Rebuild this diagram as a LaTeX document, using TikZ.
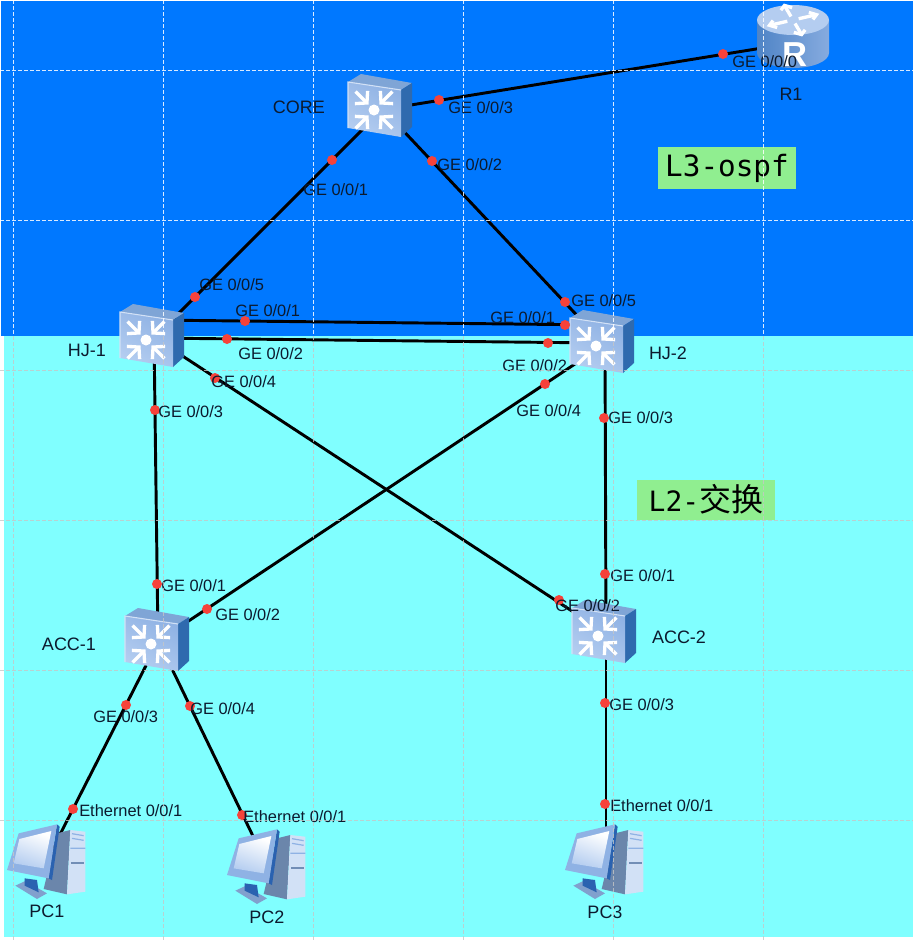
\documentclass[tikz,border=0pt]{standalone}
\usepackage{fontspec}
\setmainfont{Liberation Sans}
\newfontfamily\monof{DejaVu Sans Mono}
\newfontfamily\cjkf{Noto Sans CJK SC}
\definecolor{skyblue}{HTML}{0078FF}
\definecolor{cyanbg}{HTML}{80FFFF}
\definecolor{tagbg}{HTML}{90EE90}
\definecolor{dotred}{HTML}{F6423A}
\definecolor{inkc}{HTML}{0C1A2E}
\definecolor{faceA}{HTML}{B4CDF0}
\definecolor{faceB}{HTML}{8FB2E4}
\definecolor{sideC}{HTML}{2F6AAE}
\definecolor{topC}{HTML}{7FA5D6}
\definecolor{darkB}{HTML}{2A62B0}
\definecolor{bodyA}{HTML}{4F84C6}
\definecolor{bodyB}{HTML}{86ABDF}
\tikzset{
  x=0.75pt,y=-0.75pt,
  devnode/.style={inner sep=0pt,outer sep=0pt,minimum size=45pt},
  link/.style={line width=2.2pt,black},
  portdot/.style={circle,fill=dotred,inner sep=0pt,minimum size=7.5pt},
  lab/.style={font=\fontsize{12.3}{14}\selectfont,text=inkc,inner sep=0pt,anchor=west},
  devlabel/.style={font=\fontsize{13.5}{15}\selectfont,text=inkc,inner sep=0pt},
  tagtext/.style={inner sep=0pt,text=black},
  chev/.style={white,line width=2.5pt,line cap=butt,line join=miter},
  gridb/.style={white,line width=0.75pt,dash pattern=on 3pt off 1.5pt,opacity=.85},
  gridc/.style={gray!45,line width=0.75pt,dash pattern=on 3pt off 1.5pt,opacity=.8},
  switchicon/.pic={
    \fill[topC] (-32,-24) -- (-19,-32) -- (32,-23) -- (21,-16) -- cycle;
    \fill[sideC] (21,-16) -- (32,-23) -- (32,21) -- (21,31) -- cycle;
    \shade[top color=faceB,bottom color=faceA,shading angle=-30] (-32,-24) -- (21,-16) -- (21,31) -- (-32,22) -- cycle;
    \draw[faceA!60!white,line width=.8pt] (-32,22) -- (-32,-24) -- (21,-16);
    \begin{scope}[shift={(-6,4)}]
      \fill[white] (0,0) circle (5.5);
      \foreach \a in {45,135,225,315}{
        \begin{scope}[rotate=\a]
          \draw[chev] (26,0) -- (10,0);
          \draw[chev] (18,-9) -- (10,0) -- (18,9);
        \end{scope}}
    \end{scope}
  },
  routericon/.pic={
    \shade[left color=bodyA,right color=bodyB]
      (-36,-16) -- (-36,17) arc[start angle=180,end angle=0,x radius=36,y radius=15] -- (36,-16) -- cycle;
    \fill[faceA] (0,-16) ellipse[x radius=36,y radius=15];
    \begin{scope}[shift={(0,-16)},yscale=.62]
      \foreach \a in {20,110,200,290}{
        \begin{scope}[rotate=\a]
          \draw[chev] (6,0) -- (25,0);
          \draw[chev] (19,-6) -- (25,0) -- (19,6);
        \end{scope}}
    \end{scope}
    \node[inner sep=0pt,text=white,font=\bfseries\fontsize{26}{28}\selectfont] (rglyph) at (2,19) {R};
  },
  pcicon/.pic={
    \begin{scope}[shift={(-45,-45)},scale=1/3]
      \fill[faceB!90!black] (40,212) -- (70,198) -- (135,235) -- (105,252) -- cycle;
      \fill[darkB] (68,190) -- (105,195) -- (110,232) -- (68,212) -- cycle;
      \fill[faceB!75!black] (165,55) -- (205,45) -- (195,238) -- (125,222) -- cycle;
      \fill[faceA!60!white] (205,45) -- (250,50) -- (250,230) -- (195,238) -- cycle;
      \draw[faceB,line width=.9pt] (210,56) -- (245,62) (210,70) -- (245,76) (205,100) -- (250,100);
      \draw[faceB!80!black,line width=1.4pt] (207,145) -- (245,145);
      \fill[darkB] (165,28) -- (173,35) -- (150,195) -- (140,190) -- cycle;
      \fill[faceB] (50,55) -- (165,28) -- (140,190) -- (15,165) -- cycle;
      \shade[top color=white,bottom color=faceA,shading angle=-20] (52,72) -- (148,48) -- (125,160) -- (35,145) -- cycle;
    \end{scope}
  },
}
\begin{document}
\begin{tikzpicture}
\useasboundingbox (0,0) rectangle (913,940);
\fill[white] (0,0) rectangle (913,940);
\fill[skyblue] (1,1) rectangle (913,336);
\fill[cyanbg] (4,336) rectangle (913,937);
% tags
\node[fill=tagbg,inner sep=0pt,minimum width=103.5pt,minimum height=31.5pt] (tagthree) at (727,168) {};
\node[tagtext,font=\monof\fontsize{22}{24}\selectfont] (tagthreet) at (727,168) {L3-ospf};
\node[fill=tagbg,inner sep=0pt,minimum width=103.5pt,minimum height=30pt] (tagtwo) at (706,500) {};
\node[tagtext,anchor=center,font=\fontsize{24}{26}\selectfont] (tagtwot) at (706,499) {{\monof\fontsize{21}{24}\selectfont L2-}{\cjkf\fontsize{24}{26}\selectfont 交换}};
% device placeholders
\node[devnode] (core) at (380,106) {};
\node[devnode] (hja) at (152,336) {};
\node[devnode] (hjb) at (602,342) {};
\node[devnode] (acca) at (157,640) {};
\node[devnode] (accb) at (604,632) {};
\node[devnode] (rone) at (793,36) {};
\node[devnode] (pca) at (47,860) {};
\node[devnode] (pcb) at (267,865) {};
\node[devnode] (pcc) at (605,860) {};
% links
\draw[link] ([shift={(0,4)}]core.center) -- ([shift={(0,7)}]rone.center);
\draw[link] ([shift={(0,6)}]core.center) -- ([shift={(0,4)}]hja.center);
\draw[link] (core.center) -- (hjb.center);
\draw[link] ([shift={(0,-16)}]hja.center) -- ([shift={(0,-17)}]hjb.center);
\draw[link] ([shift={(0,2)}]hja.center) -- ([shift={(0,1)}]hjb.center);
\draw[link] ([shift={(2,0)}]hja.center) -- ([shift={(1,0)}]acca.center);
\draw[link] (hja.center) -- (accb.center);
\draw[link] ([shift={(0,4)}]hjb.center) -- ([shift={(0,2)}]acca.center);
\draw[link] ([shift={(3,0)}]hjb.center) -- ([shift={(2,0)}]accb.center);
\draw[link] ([shift={(2,0)}]acca.center) -- (pca.center);
\draw[link] ([shift={(1,0)}]acca.center) -- (pcb.center);
\draw[link] ([shift={(2,0)}]accb.center) -- ([shift={(1,0)}]pcc.center);
% icons
\pic at (core) {switchicon};
\pic at (hja) {switchicon};
\pic at (hjb) {switchicon};
\pic at (acca) {switchicon};
\pic at (accb) {switchicon};
\pic at (rone) {routericon};
\pic at (pca) {pcicon};
\pic at (pcb) {pcicon};
\pic at (pcc) {pcicon};
% port dots
\foreach \n/\p in {a/{723,54},b/{439,100},c/{432,161},d/{332,160},e/{195,297},f/{245,321},g/{227,339},h/{215,378},i/{155,410},j/{565,302},k/{565,325},l/{548,343},m/{545,384},n/{604,418},o/{605,574},p/{559,600},q/{605,703},r/{605,804},s/{157,584},t/{207,609},u/{126,705},v/{190,706},w/{73,809},x/{242,815}}
  \node[portdot] (dot\n) at (\p) {};
% labels
\node[lab] (la) at (732,62) {GE 0/0/0};
\node[lab] (lb) at (448,108) {GE 0/0/3};
\node[lab] (lc) at (437,165) {GE 0/0/2};
\node[lab] (ld) at (303,190) {GE 0/0/1};
\node[lab] (le) at (199,285) {GE 0/0/5};
\node[lab] (lf) at (235,311) {GE 0/0/1};
\node[lab] (lg) at (238,354) {GE 0/0/2};
\node[lab] (lh) at (211,382) {GE 0/0/4};
\node[lab] (li) at (158,412) {GE 0/0/3};
\node[lab] (lj) at (571,301) {GE 0/0/5};
\node[lab] (lk) at (490,318) {GE 0/0/1};
\node[lab] (ll) at (502,366) {GE 0/0/2};
\node[lab] (lm) at (516,411) {GE 0/0/4};
\node[lab] (ln) at (608,418) {GE 0/0/3};
\node[lab] (lo) at (610,576) {GE 0/0/1};
\node[lab] (lp) at (555,606) {GE 0/0/2};
\node[lab] (lq) at (609,705) {GE 0/0/3};
\node[lab] (lr) at (610,806) {Ethernet 0/0/1};
\node[lab] (ls) at (161,586) {GE 0/0/1};
\node[lab] (lt) at (215,615) {GE 0/0/2};
\node[lab] (lu) at (93,717) {GE 0/0/3};
\node[lab] (lv) at (190,709) {GE 0/0/4};
\node[lab] (lw) at (79,811) {Ethernet 0/0/1};
\node[lab] (lx) at (243,817) {Ethernet 0/0/1};
% device names
\node[devlabel] (ncore) at (299,107) {CORE};
\node[devlabel] (nrone) at (791,94) {R1};
\node[devlabel] (nhja) at (87,350) {HJ-1};
\node[devlabel] (nhjb) at (668,353) {HJ-2};
\node[devlabel] (nacca) at (69,644) {ACC-1};
\node[devlabel] (naccb) at (679,637) {ACC-2};
\node[devlabel] (npca) at (47,911) {PC1};
\node[devlabel] (npcb) at (267,917) {PC2};
\node[devlabel] (npcc) at (605,912) {PC3};
% grid
\foreach \x in {13,163,313,463,613,763}{
  \draw[gridb] (\x,0) -- (\x,336);
  \draw[gridc] (\x,336) -- (\x,940);}
\foreach \y in {70,220}{\draw[gridb] (0,\y) -- (913,\y);}
\foreach \y in {370,520,670,820}{\draw[gridc] (0,\y) -- (913,\y);}
\end{tikzpicture}
\end{document}
